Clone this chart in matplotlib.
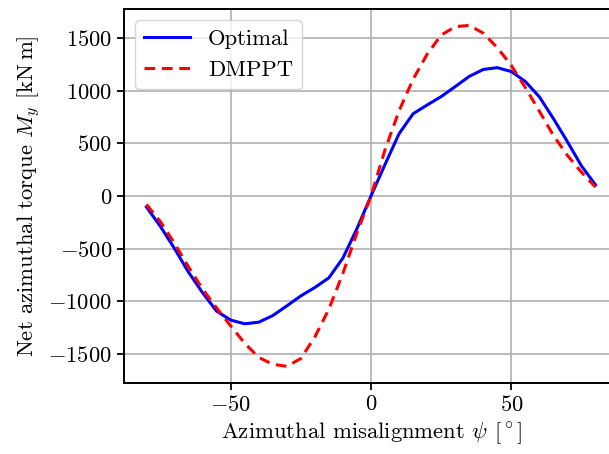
import numpy as np
import matplotlib
matplotlib.use("Agg")
import matplotlib.pyplot as plt

psi = [-80, -75, -70, -65, -60, -55, -50, -45, -40, -35, -30, -25, -20, -15, -10, -5,
       0, 5, 10, 15, 20, 25, 30, 35, 40, 45, 50, 55, 60, 65, 70, 75, 80]
optimal = [-105, -290, -500, -725, -920, -1095, -1180, -1215, -1200, -1137, -1045, -950, -870, -778, -590, -310,
           0, 300, 592, 782, 865, 945, 1040, 1137, 1203, 1220, 1183, 1088, 942, 735, 515, 285, 105]
dmppt = [-80, -245, -450, -675, -885, -1065, -1235, -1400, -1535, -1600, -1620, -1545, -1340, -1075, -735, -350,
         0, 440, 810, 1110, 1348, 1530, 1610, 1622, 1548, 1410, 1240, 1030, 805, 575, 385, 225, 85]

FS = 16.3
plt.rcParams.update({
    "font.family": "serif",
    "font.serif": ["cmr10"],
    "mathtext.fontset": "cm",
    "axes.formatter.use_mathtext": True,
    "font.size": FS,
    "axes.unicode_minus": True,
})

fig = plt.figure(figsize=(6.09, 4.54), dpi=100)
ax = fig.add_axes([0.2036, 0.1564, 0.8112, 0.8238])

ax.plot(psi, optimal, color="blue", lw=2.2, label="Optimal")
ax.plot(psi, dmppt, color="red", lw=2.2, ls=(0, (3.5, 2.2)), label="DMPPT")

ax.set_xlim(-88, 88)
ax.set_ylim(-1778, 1778)
ax.set_xticks([-50, 0, 50])
ax.set_yticks([-1500, -1000, -500, 0, 500, 1000, 1500])
ax.grid(True, color="#b0b0b0", lw=1.2)
ax.tick_params(labelsize=FS, width=1.3, length=5)
for s in ax.spines.values():
    s.set_linewidth(1.4)

ax.set_xlabel(r"Azimuthal misalignment $\psi$ [$^\circ$]", fontsize=FS)
ax.set_ylabel(r"Net azimuthal torque $M_y$ [kN$\,$m]", fontsize=FS)
ax.legend(loc="upper left", fontsize=FS, handlelength=2.0)

fig.savefig("out.png", dpi=100)
